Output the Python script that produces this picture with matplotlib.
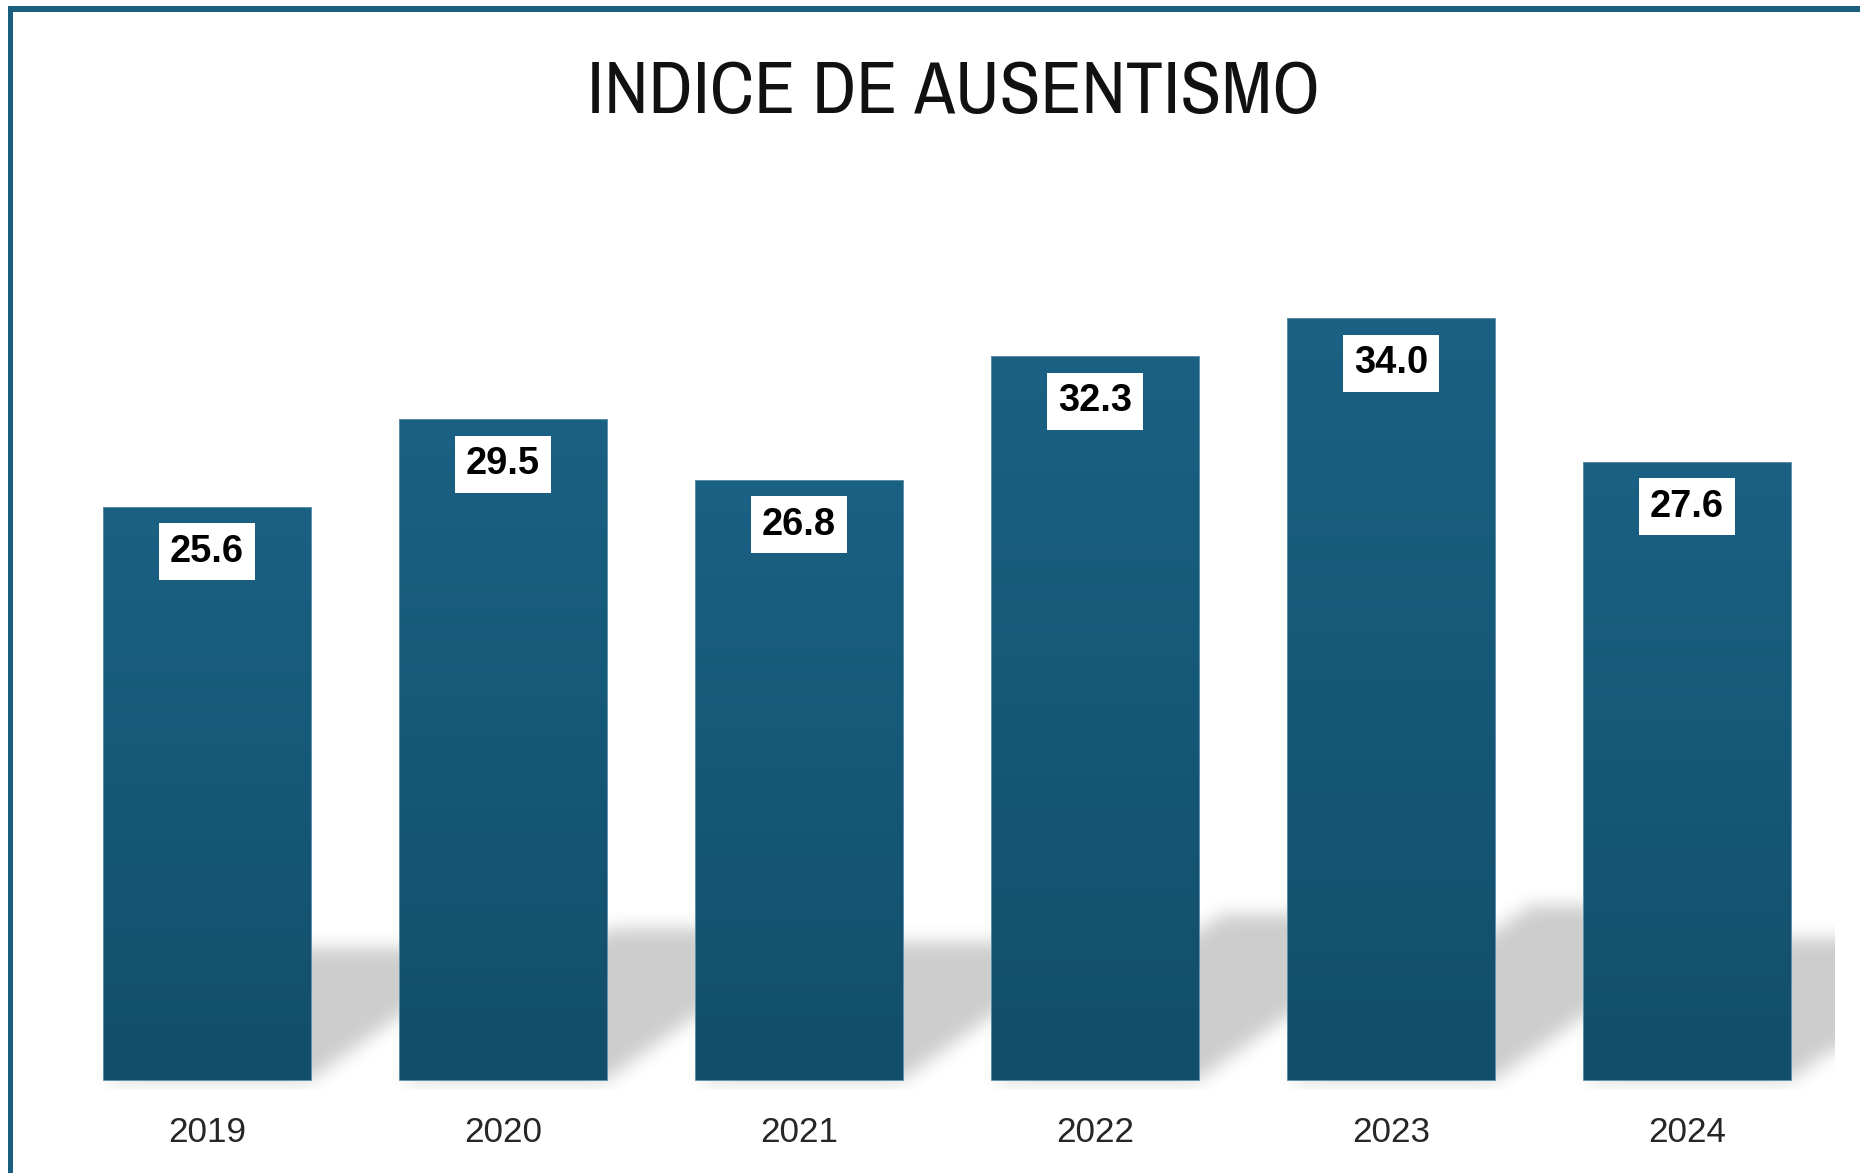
import numpy as np
import matplotlib
matplotlib.use("Agg")
import matplotlib.pyplot as plt
from matplotlib.colors import LinearSegmentedColormap
from matplotlib.patches import Rectangle

# ---------------- data ----------------
years = ["2019", "2020", "2021", "2022", "2023", "2024"]
values = [25.6, 29.5, 26.8, 32.3, 34.0, 27.6]
title = "INDICE DE AUSENTISMO"

# ---------------- layout (pixels) ----------------
FIG_W, FIG_H, DPI = 1860, 1173, 100
AX_L, AX_R, AX_T, AX_B = 59, 1835, 150, 1090
BASE_PX = 1080      # pixel row of value 0
PPU = 22.4          # pixels per unit
PT = 72.0 / DPI     # points per pixel

top_color = "#1a6183"
bottom_color = "#134e6b"
edge_color = "#5f90aa"

ymin = -(AX_B - BASE_PX) / PPU
ymax = (BASE_PX - AX_T) / PPU
n = len(values)
xmin, xmax = -0.5, n - 0.5
bw = 0.70

fig = plt.figure(figsize=(FIG_W / DPI, FIG_H / DPI), dpi=DPI)
fig.patch.set_facecolor("white")
ax = fig.add_axes([AX_L / FIG_W, 1 - AX_B / FIG_H,
                   (AX_R - AX_L) / FIG_W, (AX_B - AX_T) / FIG_H])
ax.set_facecolor("white")

# ---------------- perspective shadow ----------------
Wp, Hp = AX_R - AX_L, AX_B - AX_T
X, Y = np.meshgrid(np.arange(Wp) + 0.5, np.arange(Hp) + 0.5)
mask = np.zeros((Hp, Wp))
upx = Wp / n
yb = (0 - ymin) * PPU
for i, v in enumerate(values):
    L = (i - bw / 2 - xmin) * upx
    R = (i + bw / 2 - xmin) * upx
    h = 0.23 * v * PPU
    s = h / 0.72
    t = (Y - yb) / h
    inside = (t >= 0) & (t <= 1) & (X >= L + s * t) & (X <= R + s * t)
    mask[inside] = 1.0


def gblur(a, sigma):
    r = int(3 * sigma)
    k = np.exp(-0.5 * (np.arange(-r, r + 1) / sigma) ** 2)
    k /= k.sum()
    ap = np.pad(a, ((0, 0), (r, r)), mode="edge")
    out = np.zeros_like(a)
    for j, w in enumerate(k):
        out += w * ap[:, j:j + a.shape[1]]
    ap = np.pad(out, ((r, r), (0, 0)), mode="edge")
    out2 = np.zeros_like(a)
    for j, w in enumerate(k):
        out2 += w * ap[j:j + a.shape[0], :]
    return out2


blur = gblur(mask, 9.0)
rgba = np.zeros((Hp, Wp, 4))
rgba[..., 3] = 0.2 * blur
ax.imshow(rgba, extent=(xmin, xmax, ymin, ymax), origin="lower",
          aspect="auto", zorder=1, interpolation="nearest")

# ---------------- bars with gradient ----------------
bars = ax.bar(range(n), values, width=bw, color=top_color, linewidth=0, zorder=2)
grad = np.linspace(0, 1, 256).reshape(-1, 1)
cmap = LinearSegmentedColormap.from_list("g", [bottom_color, top_color])
for b, v in zip(bars, values):
    im = ax.imshow(grad, extent=(b.get_x(), b.get_x() + b.get_width(), 0, v),
                   origin="lower", aspect="auto", cmap=cmap, zorder=2.5,
                   interpolation="bilinear")
    im.set_clip_path(b)
ax.bar(range(n), values, width=bw, fill=False, edgecolor=edge_color,
       linewidth=0.7, zorder=3)

# ---------------- value labels ----------------
for i, v in enumerate(values):
    ax.annotate(f"{v:.1f}", xy=(i, v), xytext=(0, -55 * PT),
                textcoords="offset points", ha="center", va="baseline",
                fontsize=38 * PT, fontweight="bold", family="Liberation Sans",
                color="black", zorder=4,
                bbox=dict(boxstyle="square,pad=0.28", fc="white", ec="none"))

# ---------------- axes cosmetics ----------------
ax.set_xlim(xmin, xmax)
ax.set_ylim(ymin, ymax)
ax.set_xticks(range(n), years)
ax.tick_params(axis="x", length=0, pad=26.5 * PT, labelsize=35 * PT,
               labelcolor="#262626")
for lab in ax.get_xticklabels():
    lab.set_family("Liberation Sans")
ax.set_yticks([])
for sp in ax.spines.values():
    sp.set_visible(False)

# ---------------- title (narrow face, fitted to reference width) ----------------
ttl = fig.text(953.6 / FIG_W, 1 - 113 / FIG_H, title, ha="center", va="baseline",
               fontsize=50, family=["Archivo Narrow", "Roboto Condensed", "Liberation Sans"],
               color="#111111")
fig.canvas.draw()
w = ttl.get_window_extent(fig.canvas.get_renderer()).width
ttl.set_fontsize(50 * 733.0 / w)

# ---------------- frame ----------------
frame_c = "#1b5f80"
fig.add_artist(Rectangle((8 / FIG_W, 1 - 12 / FIG_H), 1 - 8 / FIG_W, 6 / FIG_H,
                         transform=fig.transFigure, color=frame_c, lw=0))
fig.add_artist(Rectangle((8 / FIG_W, 0), 5 / FIG_W, 1 - 6 / FIG_H,
                         transform=fig.transFigure, color=frame_c, lw=0))

fig.savefig("out.png", dpi=DPI)
